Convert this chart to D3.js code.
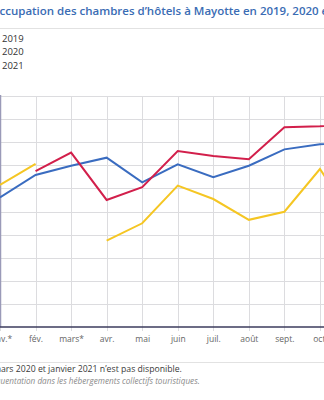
<!DOCTYPE html>
<html><head><meta charset="utf-8">
<script src="https://cdn.jsdelivr.net/npm/d3@7"></script>
<style>
html,body{margin:0;padding:0;background:#fff;overflow:hidden}
svg{display:block;font-family:"Open Sans",sans-serif}
</style></head>
<body>
<script>
const months = ["janv.*","fév.","mars*","avr.","mai","juin","juil.","août","sept.","oct.","nov.","déc."];
const years = ["2019","2020","2021"];
const colors = ["#3a6cc0","#f5c623","#d21f4b"]; // 2019 blue, 2020 yellow, 2021 red
const v2019 = [56.1,65.8,69.8,73.3,62.6,70.4,64.9,69.8,76.9,79.1,80.5,72.0];
const v2020 = [61.5,70.6,null,37.4,44.9,61.2,55.4,46.4,49.9,68.4,45.0,52.0];
const v2021 = [null,67.5,75.5,55.0,60.5,76.2,74.0,72.6,86.5,86.9,88.0,84.0];
const yTicks = [0,10,20,30,40,50,60,70,80,90,100];
const title = "Taux d’occupation des chambres d’hôtels à Mayotte en 2019, 2020 et 2021";
const titleCut = "Taux d’o";
const titleVis = "ccupation des chambres d’hôtels à Mayotte en 2019, 2020";
const note = "Note : la donnée de mars 2020 et janvier 2021 n’est pas disponible.";
const noteCut = "Note : la donnée de m";
const noteVis = "ars 2020 et janvier 2021 n’est pas disponible.";
const source = "Source : Insee, enquête de fréquentation dans les hébergements collectifs touristiques.";
const sourceCut = "Source : Insee, enquête de fréq";
const sourceVis = "uentation dans les hébergements collectifs touristiques.";

const W=324,H=400;
const svg=d3.select("body").append("svg").attr("width",W).attr("height",H);

const x=d3.scalePoint().domain(months).range([0,35.55*11]);
const y=d3.scaleLinear().domain([0,100]).range([327,96]);

// place a long text so its visible part spans [x0, x1]
function cutText(sel, full, cut, vis, x0, x1){
  const base=+sel.attr("font-size");
  sel.text(vis);
  const wv=sel.node().getComputedTextLength();
  const fs=base*(x1-x0)/wv;
  sel.attr("font-size",fs).text(cut);
  const wc=sel.node().getComputedTextLength();
  sel.text(full).attr("x",x0-wc);
  return sel;
}

// title
cutText(svg.append("text").attr("y",15).attr("font-size",15).attr("font-weight",600).attr("fill","#3a6cb4"), title, titleCut, titleVis, -0.5, 319);
svg.append("line").attr("x1",0).attr("x2",W).attr("y1",28.5).attr("y2",28.5).attr("stroke","#e2e2e2");

// legend
const lg=svg.append("g");
years.forEach((yr,i)=>{
  const yy=38+i*13.5;
  lg.append("line").attr("x1",-22).attr("x2",-8).attr("y1",yy).attr("y2",yy).attr("stroke",colors[i]).attr("stroke-width",2);
  lg.append("text").attr("x",2).attr("y",yy+3.5).attr("font-size",9.5).attr("fill","#333").text(yr);
});

// grid
const g=svg.append("g");
g.selectAll(".hg").data(yTicks.slice(1)).join("line")
 .attr("x1",0).attr("x2",W+50).attr("y1",d=>Math.round(y(d))+0.5).attr("y2",d=>Math.round(y(d))+0.5)
 .attr("stroke","#dcdcdf");
g.selectAll(".vg").data(months).join("line")
 .attr("x1",d=>Math.round(x(d))+0.5).attr("x2",d=>Math.round(x(d))+0.5)
 .attr("y1",y(100)).attr("y2",y(0)+4).attr("stroke","#dcdcdf");

// left axis line
svg.append("line").attr("x1",0.5).attr("x2",0.5).attr("y1",y(100)-1).attr("y2",y(0)).attr("stroke","#9a9ab8").attr("stroke-width",1.5);

// x axis
const xa=svg.append("g").attr("transform",`translate(0,${y(0)})`)
 .call(d3.axisBottom(x).tickSize(0).tickPadding(9));
xa.select(".domain").attr("stroke","#3b3b5c").attr("stroke-width",1.5).attr("d",`M-5,0H${W+50}`);
xa.selectAll("text").attr("font-size",8.5).attr("fill","#666").attr("font-family","'Open Sans',sans-serif");

// lines
const series=[v2019,v2020,v2021];
const line=d3.line().defined(d=>d.v!=null).x(d=>x(d.m)).y(d=>y(d.v));
series.forEach((s,i)=>{
  svg.append("path").datum(s.map((v,j)=>({m:months[j],v})))
   .attr("d",line).attr("fill","none").attr("stroke",colors[i]).attr("stroke-width",2)
   .attr("stroke-linejoin","miter");
});

// footer
svg.append("line").attr("x1",0).attr("x2",W).attr("y1",362.5).attr("y2",362.5).attr("stroke","#e2e2e2");
cutText(svg.append("text").attr("y",372).attr("font-size",9.5).attr("font-weight",500).attr("fill","#3a3a3a"), note, noteCut, noteVis, 1, 182);
cutText(svg.append("text").attr("y",384).attr("font-size",9).attr("font-style","italic").attr("fill","#8a8a8a"), source, sourceCut, sourceVis, 0.5, 200);
</script>
</body></html>
